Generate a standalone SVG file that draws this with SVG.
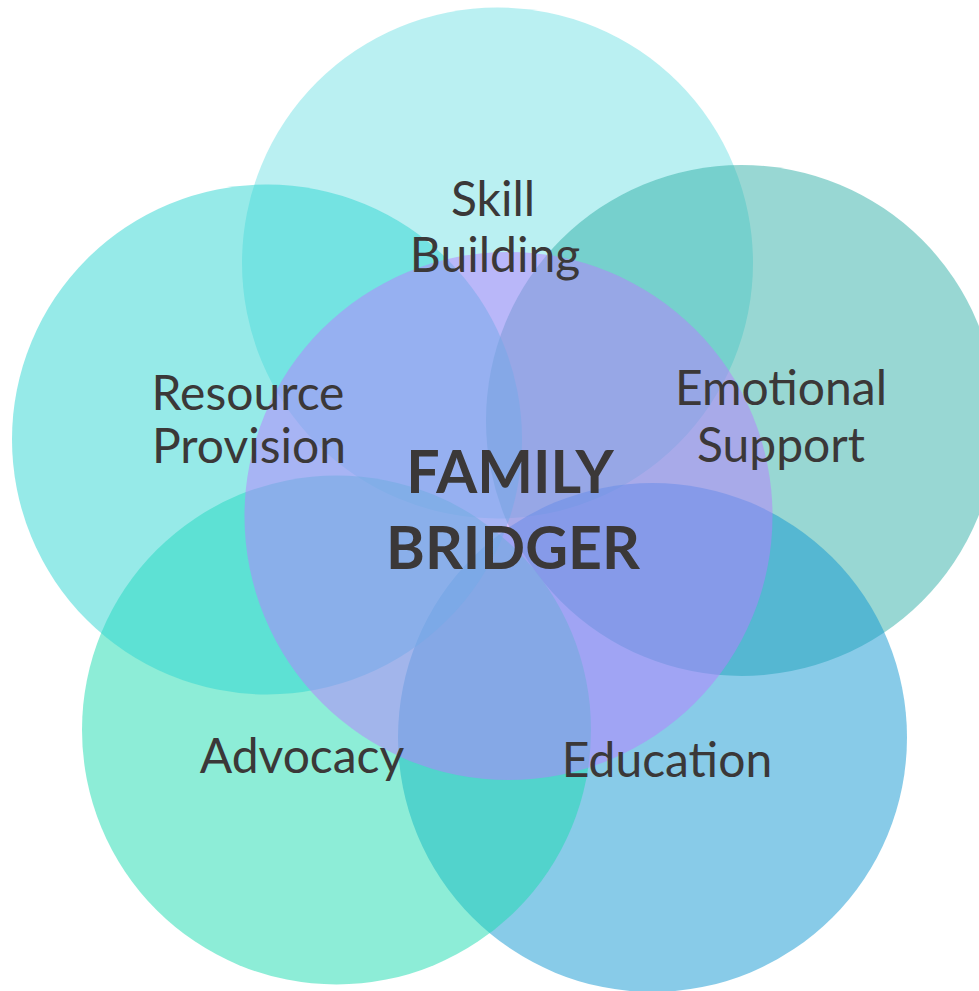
<svg xmlns="http://www.w3.org/2000/svg" width="979" height="991" viewBox="0 0 979 991">
<style>
.c{fill-opacity:0.5;stroke:none}
.t{font-family:Lato,"Open Sans","Liberation Sans",sans-serif;font-size:48px;fill:#3B3838;text-anchor:middle}
.b{font-family:Lato,"Open Sans","Liberation Sans",sans-serif;font-size:59px;font-weight:bold;fill:#3B3838;text-anchor:middle}
</style>
<rect width="979" height="991" fill="#FFFFFF"/>
<g id="skill-building">
<circle class="c" cx="497.5" cy="263" r="255.5" fill="#75E1E5"/>
</g>
<g id="emotional-support">
<circle class="c" cx="741.5" cy="420.5" r="255.5" fill="#31AFA7"/>
</g>
<g id="education">
<circle class="c" cx="652.5" cy="737.5" r="254.5" fill="#1197D1"/>
</g>
<g id="advocacy">
<circle class="c" cx="336.5" cy="730" r="254.5" fill="#1BDBAF"/>
</g>
<g id="resource-provision">
<circle class="c" cx="267" cy="439.5" r="255" fill="#2DD5D1"/>
</g>
<g id="family-bridger">
<circle class="c" cx="508.5" cy="516" r="264" fill="#B87DFF"/>
</g>
<g id="connectors"></g>
<g id="labels">
<text class="t" x="493" y="216">Skill</text>
<text class="t" x="495" y="272">Building</text>
<text class="t" x="248" y="410">Resource</text>
<text class="t" x="249" y="463">Provision</text>
<text class="t" x="781" y="405">Emotional</text>
<text class="t" x="781" y="462">Support</text>
<text class="b" x="510" y="493">FAMILY</text>
<text class="b" x="513" y="569">BRIDGER</text>
<text class="t" x="302" y="773">Advocacy</text>
<text class="t" x="667" y="777">Education</text>
</g>
</svg>
